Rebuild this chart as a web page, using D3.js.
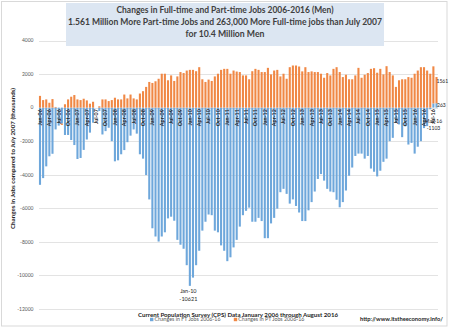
<!DOCTYPE html>
<html>
<head>
<meta charset="utf-8">
<script src="https://cdn.jsdelivr.net/npm/d3@7"></script>
<style>
  body { margin: 0; background: #fff; }
  svg { display: block; }
  text { font-family: Lato, "Open Sans", sans-serif; }
</style>
</head>
<body>
<svg id="chart" width="450" height="327"></svg>
<script>
// Monthly change vs. July 2007, thousands of jobs (Jan 2006 .. Aug 2016)
const firstMonth = new Date(2006, 0, 1);
const lastMonth = new Date(2016, 7, 1);

const ftChanges = [
  -4600, -4200, -3500, -2900, -2750, -1300, -1070, -950, -1630, -1630, -1930, -2230,
  -3060, -3000, -2520, -1900, -1490, -900, 0, -200, -1600, -1400, -1200, -2000,
  -3200, -3140, -2780, -2530, -2060, -1670, -1300, -1550, -2780, -3040, -4020, -5470,
  -7190, -7680, -7980, -7680, -7430, -6600, -6500, -6740, -7880, -8170, -8410, -9390,
  -10621, -10130, -9390, -8530, -7330, -6800, -6370, -6410, -7330, -7430, -8210, -8530,
  -9150, -8920, -8330, -7880, -7090, -6410, -6150, -5960, -6800, -6800, -6570, -6760,
  -7780, -7780, -6900, -6570, -6020, -5040, -4840, -5140, -5720, -5470, -5860, -6250,
  -6760, -6760, -6120, -5630, -5000, -4250, -3960, -4350, -4840, -5000, -5040, -5490,
  -5940, -5630, -4940, -4060, -3570, -2880, -2740, -2740, -3040, -2880, -3630, -3820,
  -4100, -3760, -3230, -3040, -2000, -1800, -900, -1000, -1760, -1120, -2200, -2100,
  -2740, -2330, -2000, -1220, -1103, -100, 250, 263
];

const ptChanges = [
  700, 450, 490, 290, 510, 40, 0, -80, 200, 490, 650, 750,
  490, 450, 530, 430, 235, 350, 0, 80, 490, 490, 390, 450,
  590, 490, 490, 780, 550, 780, 550, 490, 840, 980, 1235, 1530,
  1470, 1570, 1720, 2020, 2020, 1630, 1920, 1590, 1860, 2120, 2060, 2210,
  2250, 2250, 2170, 2410, 1690, 1530, 1670, 1590, 1860, 2020, 2250, 2310,
  2310, 2020, 2210, 2150, 2120, 1920, 1920, 1690, 2170, 2310, 2250, 2120,
  2120, 2370, 1980, 2210, 2250, 1860, 2020, 1720, 2410, 2510, 2510, 2450,
  2160, 2410, 2120, 2160, 2120, 2120, 2020, 1780, 2060, 1920, 2310, 2410,
  2120, 1820, 1960, 1690, 1690, 1920, 2370, 1780, 1960, 2060, 2310, 2350,
  2080, 2310, 1980, 2470, 2120, 1920, 1235, 1630, 1690, 1690, 1820, 1780,
  2020, 2210, 2410, 2410, 2210, 2020, 2210, 1561
];

const yTicks = [4000, 2000, 0, -2000, -4000, -6000, -8000, -10000, -12000];
const seriesNames = ['Changes in FT Jobs 2006-16', 'Changes in PT Jobs 2006-16'];
const seriesColors = ['#6ea7db', '#f08845'];
const titleLines = [
  'Changes in Full-time and Part-time Jobs 2006-2016 (Men)',
  '1.561 Million More Part-time Jobs and 263,000 More Full-time jobs than July 2007',
  'for 10.4 Million Men'
];
const yAxisTitle = 'Changes in Jobs compared to  July 2007 (thousands)';
const sourceNote = 'Current Population Survey (CPS) Data January 2006 through August 2016';
const siteUrl = 'http://www.itstheeconomy.info/';

const months = d3.timeMonth.range(firstMonth, d3.timeMonth.offset(lastMonth, 1));
const rows = months.map((m, i) => ({ month: m, ft: ftChanges[i], pt: ptChanges[i] }));
const fmtMonth = d3.timeFormat('%b-%y');

const svg = d3.select('#chart');

// outer frame
svg.append('rect')
  .attr('x', 1.5).attr('y', 1.5)
  .attr('width', 445.5).attr('height', 324.5)
  .attr('fill', '#fff')
  .attr('stroke', '#d9d9d9');

const x = d3.scaleBand()
  .domain(months)
  .range([38.95, 437.55])
  .paddingInner(0.33)
  .paddingOuter(0);

const y = d3.scaleLinear()
  .domain([-12000, 4000])
  .range([309, 40.5]);

// horizontal gridlines
svg.append('g')
  .selectAll('line')
  .data(yTicks)
  .join('line')
  .attr('x1', 39).attr('x2', 438)
  .attr('y1', d => Math.round(y(d)) + 0.5)
  .attr('y2', d => Math.round(y(d)) + 0.5)
  .attr('stroke', '#e3e3e3')
  .attr('stroke-width', 1);

// y tick labels
svg.append('g')
  .selectAll('text')
  .data(yTicks)
  .join('text')
  .attr('x', 33.5)
  .attr('y', d => y(d) + 1.8)
  .attr('text-anchor', 'end')
  .attr('font-size', 5)
  .attr('fill', '#595959')
  .text(d => d);

// stacked columns, negatives stacking downward from zero
const stacked = d3.stack()
  .keys(['ft', 'pt'])
  .offset(d3.stackOffsetDiverging)(rows);

svg.append('g')
  .selectAll('g')
  .data(stacked)
  .join('g')
  .attr('fill', (d, i) => seriesColors[i])
  .selectAll('rect')
  .data(d => d)
  .join('rect')
  .attr('x', d => x(d.data.month))
  .attr('width', x.bandwidth())
  .attr('y', d => y(Math.max(d[0], d[1])))
  .attr('height', d => Math.abs(y(d[0]) - y(d[1])));

// month labels every quarter, written upward from the zero line
svg.append('g')
  .selectAll('text')
  .data(months.filter((m, i) => i % 3 === 0))
  .join('text')
  .attr('transform', d => `translate(${x(d) + x.bandwidth() / 2 + 1.9},${y(0) + 1.5}) rotate(-90)`)
  .attr('text-anchor', 'end')
  .attr('font-size', 5.4)
  .attr('font-weight', 'bold')
  .attr('fill', '#262626')
  .text(d => fmtMonth(d));

// callouts
const lowIdx = ftChanges.indexOf(d3.min(ftChanges));
const lowX = x(months[lowIdx]) + x.bandwidth() / 2 - 1.5;
svg.append('text')
  .attr('x', lowX).attr('y', y(ftChanges[lowIdx]) + 7.5)
  .attr('text-anchor', 'middle')
  .attr('font-size', 5.5).attr('fill', '#262626')
  .text(fmtMonth(months[lowIdx]));
svg.append('text')
  .attr('x', lowX).attr('y', y(ftChanges[lowIdx]) + 15.5)
  .attr('text-anchor', 'middle')
  .attr('font-size', 5.5).attr('fill', '#262626')
  .text(ftChanges[lowIdx]);

const n = months.length - 1;
const endX = x(months[n]) + x.bandwidth() - 1;
svg.append('text')
  .attr('x', endX).attr('y', y(ftChanges[n] + ptChanges[n] / 2) - 7)
  .attr('font-size', 5).attr('fill', '#262626')
  .text(ptChanges[n]);
svg.append('text')
  .attr('x', endX + 0.5).attr('y', y(ftChanges[n] / 2) + 1.8)
  .attr('font-size', 5).attr('fill', '#262626')
  .text(ftChanges[n]);

const mayIdx = n - 3;
const mayX = x(months[n]) - 2;
svg.append('text')
  .attr('x', mayX).attr('y', y(0) + 15)
  .attr('text-anchor', 'middle')
  .attr('font-size', 5).attr('fill', '#262626')
  .text(fmtMonth(months[mayIdx]));
svg.append('text')
  .attr('x', mayX).attr('y', y(0) + 22)
  .attr('text-anchor', 'middle')
  .attr('font-size', 5).attr('fill', '#262626')
  .text(ftChanges[mayIdx]);

// title box
svg.append('rect')
  .attr('x', 66).attr('y', 3)
  .attr('width', 318).attr('height', 43)
  .attr('fill', '#dce6f2');

const titleWidths = [217, 314, 79];
svg.append('g')
  .selectAll('text')
  .data(titleLines)
  .join('text')
  .attr('x', 225)
  .attr('y', (d, i) => 13 + i * 12)
  .attr('text-anchor', 'middle')
  .attr('font-size', 8.6)
  .attr('font-weight', 'bold')
  .attr('fill', '#404040')
  .attr('textLength', (d, i) => titleWidths[i])
  .attr('lengthAdjust', 'spacingAndGlyphs')
  .text(d => d);

// y axis title
svg.append('text')
  .attr('transform', 'translate(14.5,158.5) rotate(-90)')
  .attr('text-anchor', 'middle')
  .attr('font-size', 6)
  .attr('font-weight', 'bold')
  .attr('fill', '#262626')
  .attr('textLength', 141)
  .attr('lengthAdjust', 'spacingAndGlyphs')
  .text(yAxisTitle);

// x axis note
svg.append('text')
  .attr('x', 238).attr('y', 316.5)
  .attr('text-anchor', 'middle')
  .attr('font-size', 6)
  .attr('font-weight', 'bold')
  .attr('fill', '#262626')
  .attr('textLength', 200)
  .attr('lengthAdjust', 'spacingAndGlyphs')
  .text(sourceNote);

// legend
const legendX = [150, 233.8];
const legend = svg.append('g')
  .selectAll('g')
  .data(seriesNames)
  .join('g')
  .attr('transform', (d, i) => `translate(${legendX[i]},319.5)`);
legend.append('rect')
  .attr('x', 0).attr('y', -1.7)
  .attr('width', 3.4).attr('height', 3.4)
  .attr('fill', (d, i) => seriesColors[i]);
legend.append('text')
  .attr('x', 4.5).attr('y', 1.8)
  .attr('font-size', 5)
  .attr('fill', '#595959')
  .attr('textLength', 66)
  .attr('lengthAdjust', 'spacingAndGlyphs')
  .text(d => d);

// site credit
svg.append('text')
  .attr('x', 360).attr('y', 321)
  .attr('font-size', 5.5)
  .attr('font-weight', 'bold')
  .attr('fill', '#262626')
  .attr('textLength', 83)
  .attr('lengthAdjust', 'spacingAndGlyphs')
  .text(siteUrl);
</script>
</body>
</html>
